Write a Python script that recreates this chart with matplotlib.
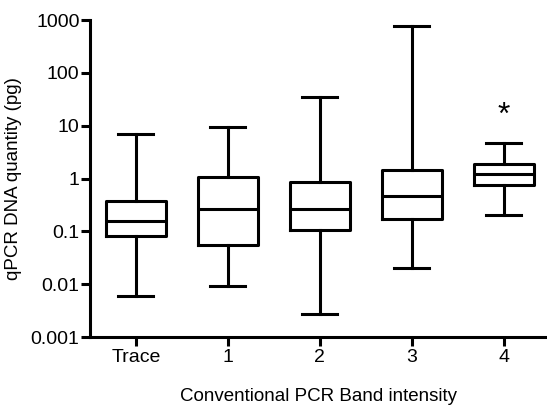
import matplotlib

matplotlib.use("Agg")
import matplotlib.pyplot as plt
from matplotlib.ticker import FixedLocator, NullLocator

plt.rcParams["font.family"] = ["Liberation Sans", "DejaVu Sans"]

GROUPS = ["Trace", "1", "2", "3", "4"]
WHISKER_LOW = [0.0059, 0.0094, 0.0027, 0.020, 0.20]
Q1 = [0.080, 0.056, 0.104, 0.175, 0.77]
MEDIAN = [0.16, 0.27, 0.26, 0.46, 1.20]
Q3 = [0.38, 1.05, 0.85, 1.48, 1.85]
WHISKER_HIGH = [7.1, 9.3, 35.0, 760.0, 4.8]
STAR_GROUP = "4"
STAR_Y = 15.0
Y_TICKS = [0.001, 0.01, 0.1, 1, 10, 100, 1000]
Y_TICK_LABELS = ["0.001", "0.01", "0.1", "1", "10", "100", "1000"]

LW = 2.2

fig = plt.figure(figsize=(5.47, 4.09), dpi=100)
ax = fig.add_axes([0.1645, 0.176, 0.8355, 0.775])

stats = []
for i, g in enumerate(GROUPS):
    stats.append(
        {
            "label": g,
            "whislo": WHISKER_LOW[i],
            "q1": Q1[i],
            "med": MEDIAN[i],
            "q3": Q3[i],
            "whishi": WHISKER_HIGH[i],
            "fliers": [],
        }
    )

line_style = dict(color="black", linewidth=LW)
ax.bxp(
    stats,
    positions=range(1, len(GROUPS) + 1),
    widths=0.65,
    capwidths=0.38,
    showfliers=False,
    boxprops=line_style,
    whiskerprops=line_style,
    capprops=line_style,
    medianprops=line_style,
)

star_x = GROUPS.index(STAR_GROUP) + 1
ax.text(star_x, STAR_Y, "*", ha="center", va="center", fontsize=23)

ax.set_yscale("log")
ax.set_ylim(0.001, 1000)
ax.set_xlim(0.5, 5.47)
ax.yaxis.set_major_locator(FixedLocator(Y_TICKS))
ax.yaxis.set_minor_locator(NullLocator())
ax.set_yticklabels(Y_TICK_LABELS)
ax.set_xticks(range(1, len(GROUPS) + 1))
ax.set_xticklabels(GROUPS)

for side in ["top", "right"]:
    ax.spines[side].set_visible(False)
for side in ["left", "bottom"]:
    ax.spines[side].set_linewidth(LW)
ax.tick_params(axis="both", width=LW, length=6.5, labelsize=14, color="black")
ax.tick_params(axis="y", pad=1)
ax.tick_params(axis="x", pad=2)

ax.set_ylabel("qPCR DNA quantity (pg)", fontsize=13.5, labelpad=6)
ax.set_xlabel("Conventional PCR Band intensity", fontsize=13.5, labelpad=16)

fig.savefig("out.png", dpi=100)
